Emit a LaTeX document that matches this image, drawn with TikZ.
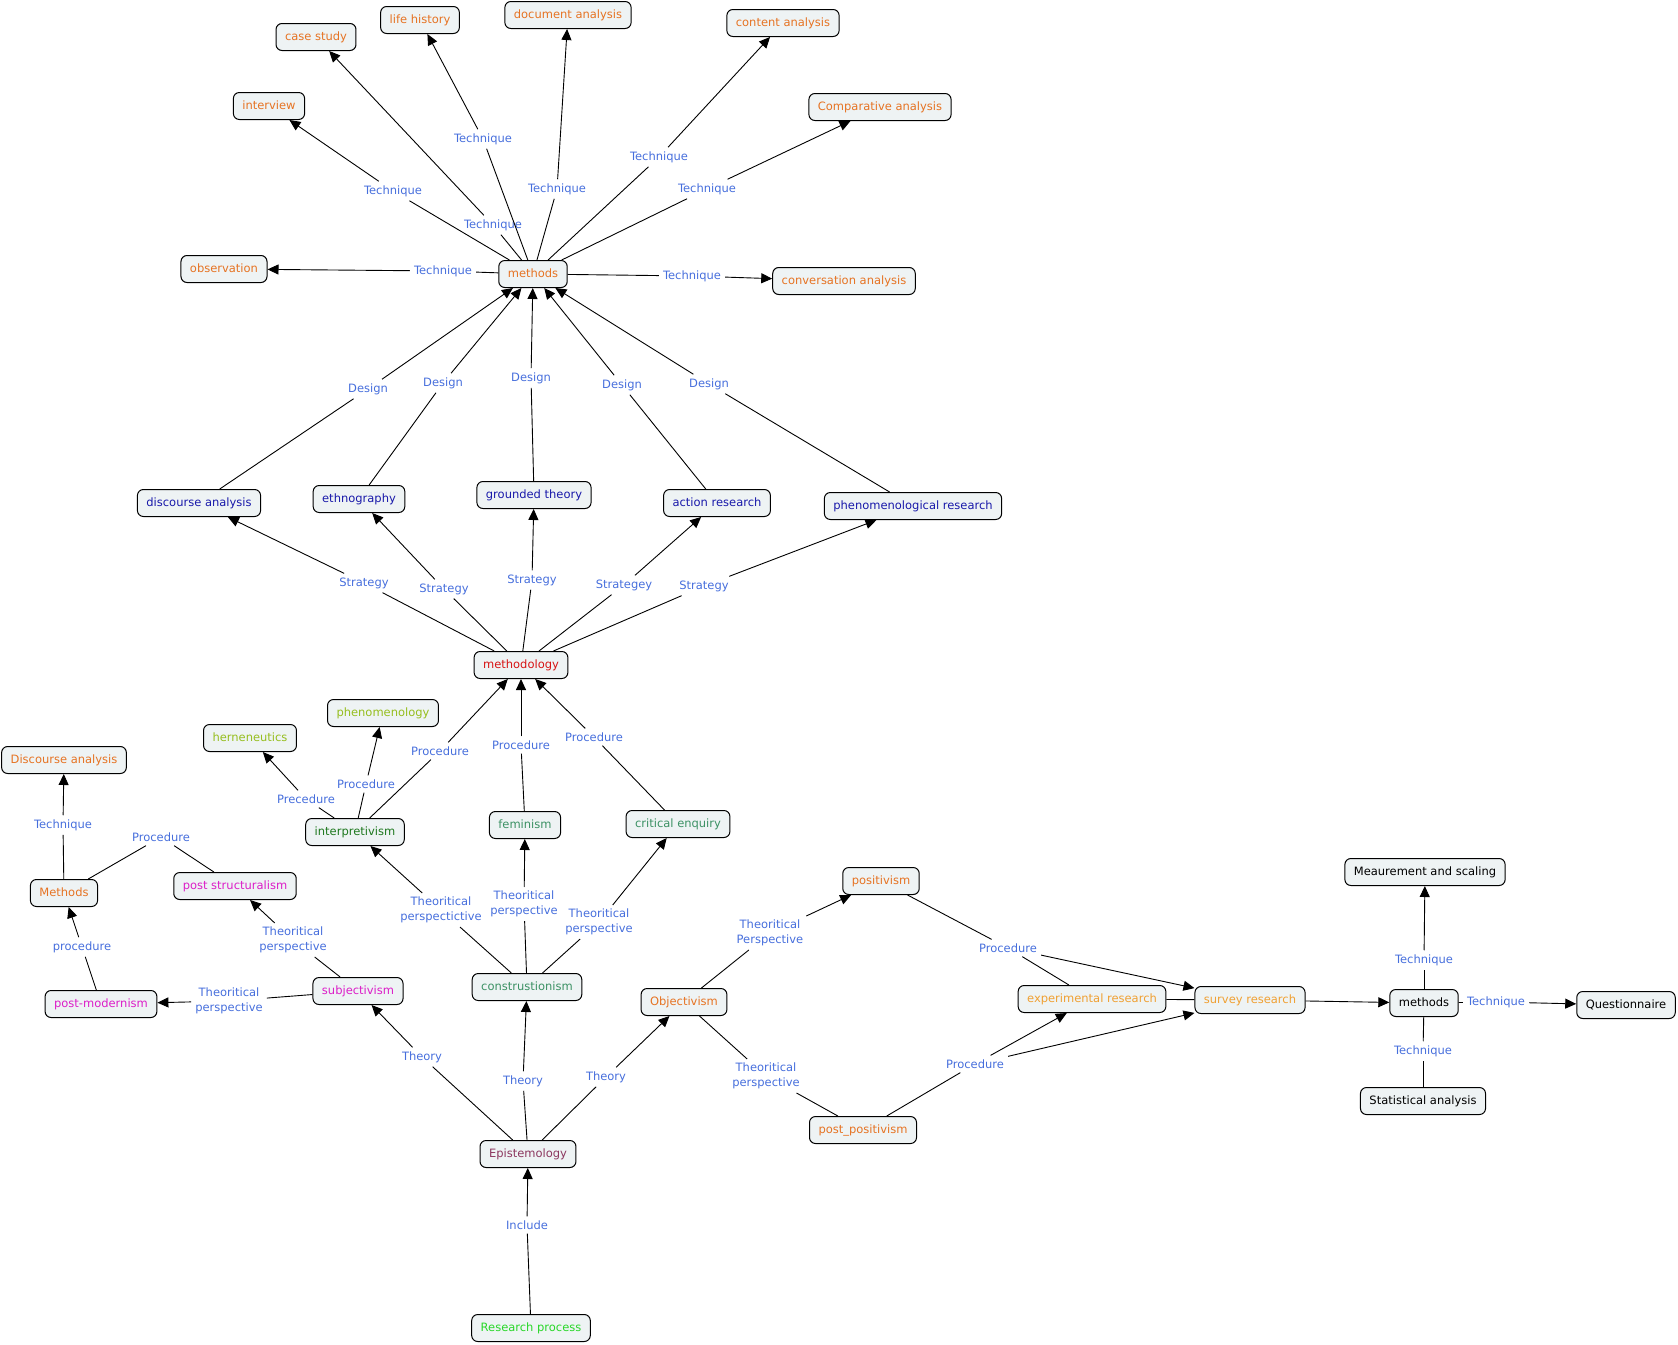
\documentclass[tikz,border=0pt]{standalone}
\usepackage{fontspec}
\setmainfont{DejaVu Sans}
\usepackage{xcolor}
\usetikzlibrary{arrows.meta}

\definecolor{cmapfill}{RGB}{238,243,244}
\definecolor{linkblue}{RGB}{70,110,220}
\definecolor{cmaporange}{RGB}{230,115,35}
\definecolor{cmapgold}{RGB}{240,160,50}
\definecolor{cmapnavy}{RGB}{25,25,170}
\definecolor{cmapred}{RGB}{215,20,20}
\definecolor{cmaplime}{RGB}{150,190,30}
\definecolor{cmapgreen}{RGB}{30,120,30}
\definecolor{cmapteal}{RGB}{60,145,100}
\definecolor{cmapmagenta}{RGB}{220,30,200}
\definecolor{cmapplum}{RGB}{140,55,95}
\definecolor{cmapbright}{RGB}{40,215,40}
\newcommand{\cmapfont}{\fontsize{11.5}{14.5}\selectfont}

\begin{document}
\begin{tikzpicture}[
        x=1pt, y=-1pt,
        concept/.style={
            rectangle,
            draw=black,
            fill=cmapfill,
            rounded corners=6pt,
            line width=1pt,
            minimum height=27pt,
            inner xsep=9pt,
            inner ysep=3pt,
            text height=9pt,
            text depth=2.5pt,
            font=\cmapfont
        },
        phrase/.style={
            text=linkblue,
            align=center,
            inner sep=4pt,
            font=\cmapfont
        },
        arrow/.style={-{Triangle[length=11pt,width=10pt]}, line width=0.9pt},
        plain/.style={line width=0.9pt}
    ]
    \useasboundingbox (0,0) rectangle (1678,1344);

    % methods and techniques
    \node (methods) [concept, text=cmaporange] at (533,274) {methods};
    \node (observation) [concept, text=cmaporange] at (224,269) {observation};
    \node (interview) [concept, text=cmaporange] at (269,106) {interview};
    \node (casestudy) [concept, text=cmaporange] at (316,37) {case study};
    \node (lifehistory) [concept, text=cmaporange] at (420,20) {life history};
    \node (docanalysis) [concept, text=cmaporange] at (568,15) {document analysis};
    \node (contentanalysis) [concept, text=cmaporange] at (783,23) {content analysis};
    \node (comparative) [concept, text=cmaporange] at (880,107) {Comparative analysis};
    \node (conversation) [concept, text=cmaporange] at (844,281) {conversation analysis};

    \node (tobs) [phrase] at (443,271) {Technique};
    \node (tint) [phrase] at (393,191) {Technique};
    \node (tcase) [phrase] at (493,225) {Technique};
    \node (tlife) [phrase] at (483,139) {Technique};
    \node (tdoc) [phrase] at (557,189) {Technique};
    \node (tcont) [phrase] at (659,157) {Technique};
    \node (tcomp) [phrase] at (707,189) {Technique};
    \node (tconv) [phrase] at (692,276) {Technique};

    % strategies
    \node (discourse) [concept, text=cmapnavy] at (199,503) {discourse analysis};
    \node (ethnography) [concept, text=cmapnavy] at (359,499) {ethnography};
    \node (grounded) [concept, text=cmapnavy] at (534,495) {grounded theory};
    \node (action) [concept, text=cmapnavy] at (717,503) {action research};
    \node (phenresearch) [concept, text=cmapnavy] at (913,506) {phenomenological research};

    \node (dzero) [phrase] at (368,389) {Design};
    \node (done) [phrase] at (443,383) {Design};
    \node (dtwo) [phrase] at (531,378) {Design};
    \node (dthree) [phrase] at (622,385) {Design};
    \node (dfour) [phrase] at (709,384) {Design};

    \node (methodology) [concept, text=cmapred] at (521,665) {methodology};

    \node (szero) [phrase] at (364,583) {Strategy};
    \node (sone) [phrase] at (444,589) {Strategy};
    \node (stwo) [phrase] at (532,580) {Strategy};
    \node (sthree) [phrase] at (624,585) {Strategey};
    \node (sfour) [phrase] at (704,586) {Strategy};

    % theoretical perspectives
    \node (herneneutics) [concept, text=cmaplime] at (250,738) {herneneutics};
    \node (phenomenology) [concept, text=cmaplime] at (383,713) {phenomenology};
    \node (interpretivism) [concept, text=cmapgreen] at (355,832) {interpretivism};
    \node (feminism) [concept, text=cmapteal] at (525,825) {feminism};
    \node (critical) [concept, text=cmapteal] at (678,824) {critical enquiry};
    \node (constr) [concept, text=cmapteal] at (527,987) {construstionism};

    \node (pinterp) [phrase] at (440,751) {Procedure};
    \node (pfem) [phrase] at (521,745) {Procedure};
    \node (pcrit) [phrase] at (594,737) {Procedure};
    \node (pherm) [phrase] at (306,799) {Precedure};
    \node (pphen) [phrase] at (366,784) {Procedure};

    \node (tpinterp) [phrase] at (441,910) {Theoritical\\perspectictive};
    \node (tpfem) [phrase] at (524,904) {Theoritical\\perspective};
    \node (tpcrit) [phrase] at (599,922) {Theoritical\\perspective};

    % subjectivism branch
    \node (discourseup) [concept, text=cmaporange] at (64,760) {Discourse analysis};
    \node (methodsleft) [concept, text=cmaporange] at (64,893) {Methods};
    \node (poststruct) [concept, text=cmapmagenta] at (235,886) {post structuralism};
    \node (postmodern) [concept, text=cmapmagenta] at (101,1004) {post-modernism};
    \node (subjectivism) [concept, text=cmapmagenta] at (358,991) {subjectivism};

    \node (tleft) [phrase] at (63,825) {Technique};
    \node (pleft) [phrase] at (161,837) {Procedure};
    \node (pmod) [phrase] at (82,947) {procedure};
    \node (tppost) [phrase] at (293,940) {Theoritical\\perspective};
    \node (tpmod) [phrase] at (229,1001) {Theoritical\\perspective};

    % objectivism branch
    \node (objectivism) [concept, text=cmaporange] at (684,1002) {Objectivism};
    \node (positivism) [concept, text=cmaporange] at (881,881) {positivism};
    \node (postpositivism) [concept, text=cmaporange] at (863,1130) {post\_positivism};
    \node (experimental) [concept, text=cmapgold] at (1092,999) {experimental research};
    \node (survey) [concept, text=cmapgold] at (1250,1000) {survey research};
    \node (methodsright) [concept] at (1424,1003) {methods};
    \node (measurement) [concept] at (1425,872) {Meaurement and scaling};
    \node (questionnaire) [concept] at (1626,1005) {Questionnaire};
    \node (statistical) [concept] at (1423,1101) {Statistical analysis};

    \node (tppos) [phrase] at (770,933) {Theoritical\\Perspective};
    \node (tppostpos) [phrase] at (766,1076) {Theoritical\\perspective};
    \node (ppos) [phrase] at (1008,948) {Procedure};
    \node (ppostpos) [phrase] at (975,1064) {Procedure};
    \node (tmeas) [phrase] at (1424,960) {Technique};
    \node (tquest) [phrase] at (1496,1002) {Technique};
    \node (tstat) [phrase] at (1423,1051) {Technique};

    % epistemology
    \node (epistemology) [concept, text=cmapplum] at (528,1154) {Epistemology};
    \node (research) [concept, text=cmapbright] at (531,1328) {Research process};

    \node (thsubj) [phrase] at (422,1057) {Theory};
    \node (thconstr) [phrase] at (523,1081) {Theory};
    \node (thobj) [phrase] at (606,1077) {Theory};
    \node (include) [phrase] at (527,1225) {Include};

    % connectors: techniques
    \draw [plain] (methods) -- (tobs);  \draw [arrow] (tobs) -- (observation);
    \draw [plain] (methods) -- (tint);  \draw [arrow] (tint) -- (interview);
    \draw [plain] (methods) -- (tcase); \draw [arrow] (tcase) -- (casestudy);
    \draw [plain] (methods) -- (tlife); \draw [arrow] (tlife) -- (lifehistory);
    \draw [plain] (methods) -- (tdoc);  \draw [arrow] (tdoc) -- (docanalysis);
    \draw [plain] (methods) -- (tcont); \draw [arrow] (tcont) -- (contentanalysis);
    \draw [plain] (methods) -- (tcomp); \draw [arrow] (tcomp) -- (comparative);
    \draw [plain] (methods) -- (tconv); \draw [arrow] (tconv) -- (conversation);

    % connectors: design and strategy
    \draw [plain] (discourse) -- (dzero);      \draw [arrow] (dzero) -- (methods);
    \draw [plain] (ethnography) -- (done);     \draw [arrow] (done) -- (methods);
    \draw [plain] (grounded) -- (dtwo);        \draw [arrow] (dtwo) -- (methods);
    \draw [plain] (action) -- (dthree);        \draw [arrow] (dthree) -- (methods);
    \draw [plain] (phenresearch) -- (dfour);   \draw [arrow] (dfour) -- (methods);

    \draw [plain] (methodology) -- (szero);  \draw [arrow] (szero) -- (discourse);
    \draw [plain] (methodology) -- (sone);   \draw [arrow] (sone) -- (ethnography);
    \draw [plain] (methodology) -- (stwo);   \draw [arrow] (stwo) -- (grounded);
    \draw [plain] (methodology) -- (sthree); \draw [arrow] (sthree) -- (action);
    \draw [plain] (methodology) -- (sfour);  \draw [arrow] (sfour) -- (phenresearch);

    % connectors: procedures
    \draw [plain] (interpretivism) -- (pinterp); \draw [arrow] (pinterp) -- (methodology);
    \draw [plain] (feminism) -- (pfem);          \draw [arrow] (pfem) -- (methodology);
    \draw [plain] (critical) -- (pcrit);         \draw [arrow] (pcrit) -- (methodology);
    \draw [plain] (interpretivism) -- (pherm);   \draw [arrow] (pherm) -- (herneneutics);
    \draw [plain] (interpretivism) -- (pphen);   \draw [arrow] (pphen) -- (phenomenology);

    \draw [plain] (constr) -- (tpinterp); \draw [arrow] (tpinterp) -- (interpretivism);
    \draw [plain] (constr) -- (tpfem);    \draw [arrow] (tpfem) -- (feminism);
    \draw [plain] (constr) -- (tpcrit);   \draw [arrow] (tpcrit) -- (critical);

    % connectors: subjectivism
    \draw [plain] (methodsleft) -- (tleft);     \draw [arrow] (tleft) -- (discourseup);
    \draw [plain] (methodsleft) -- (pleft);     \draw [plain] (pleft) -- (poststruct);
    \draw [plain] (postmodern) -- (pmod);       \draw [arrow] (pmod) -- (methodsleft);
    \draw [plain] (subjectivism) -- (tppost);   \draw [arrow] (tppost) -- (poststruct);
    \draw [plain] (subjectivism) -- (tpmod);    \draw [arrow] (tpmod) -- (postmodern);

    % connectors: objectivism
    \draw [plain] (objectivism) -- (tppos);      \draw [arrow] (tppos) -- (positivism);
    \draw [plain] (objectivism) -- (tppostpos);  \draw [plain] (tppostpos) -- (postpositivism);
    \draw [plain] (positivism) -- (ppos);        \draw [arrow] (ppos) -- (survey);
    \draw [plain] (ppos) -- (experimental);
    \draw [plain] (postpositivism) -- (ppostpos);
    \draw [arrow] (ppostpos) -- (experimental);
    \draw [arrow] (ppostpos) -- (survey);
    \draw [plain] (experimental) -- (survey);
    \draw [arrow] (survey) -- (methodsright);
    \draw [plain] (methodsright) -- (tmeas);   \draw [arrow] (tmeas) -- (measurement);
    \draw [plain] (methodsright) -- (tquest);  \draw [arrow] (tquest) -- (questionnaire);
    \draw [plain] (statistical) -- (tstat);    \draw [plain] (tstat) -- (methodsright);

    % connectors: epistemology
    \draw [plain] (epistemology) -- (thsubj);   \draw [arrow] (thsubj) -- (subjectivism);
    \draw [plain] (epistemology) -- (thconstr); \draw [arrow] (thconstr) -- (constr);
    \draw [plain] (epistemology) -- (thobj);    \draw [arrow] (thobj) -- (objectivism);
    \draw [plain] (research) -- (include);      \draw [arrow] (include) -- (epistemology);

\end{tikzpicture}
\end{document}
